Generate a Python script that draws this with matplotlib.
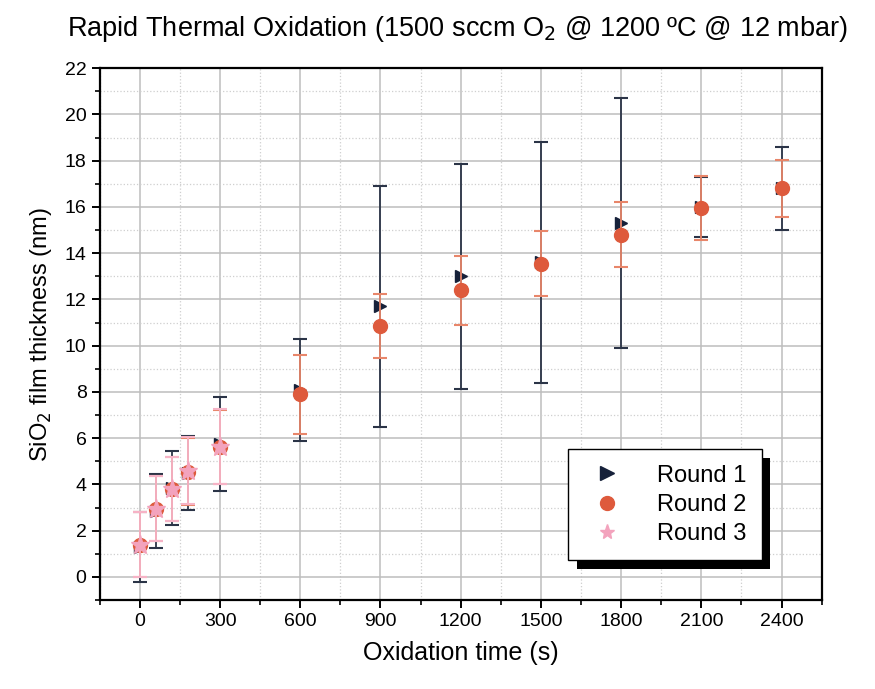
import matplotlib
matplotlib.use("Agg")
import matplotlib.pyplot as plt
import matplotlib.patheffects as pe
from matplotlib.lines import Line2D
from matplotlib.ticker import MultipleLocator

plt.rcParams['font.family'] = ['Liberation Sans', 'DejaVu Sans']

# Round 1
t1 = [0, 60, 120, 180, 300, 600, 900, 1200, 1500, 1800, 2100, 2400]
y1 = [1.3, 2.85, 3.85, 4.5, 5.75, 8.1, 11.7, 13.0, 13.6, 15.3, 16.0, 16.8]
e1 = [1.5, 1.6, 1.6, 1.6, 2.05, 2.2, 5.2, 4.85, 5.2, 5.4, 1.3, 1.8]

# Round 2
t2 = [0, 60, 120, 180, 300, 600, 900, 1200, 1500, 1800, 2100, 2400]
y2 = [1.4, 2.95, 3.8, 4.55, 5.6, 7.9, 10.85, 12.4, 13.55, 14.8, 15.95, 16.8]
e2 = [1.4, 1.4, 1.4, 1.45, 1.6, 1.7, 1.4, 1.5, 1.4, 1.4, 1.37, 1.22]

# Round 3
t3 = [0, 60, 120, 180, 300]
y3 = [1.4, 2.95, 3.8, 4.6, 5.63]
e3 = [1.4, 1.4, 1.4, 1.45, 1.62]

fig = plt.figure(figsize=(8.75, 6.89), dpi=100)
ax = fig.add_axes([0.114, 0.129, 0.825, 0.772])

c1, c2, c3 = '#16213a', '#de5a3c', '#f3a3bd'

ax.errorbar(t1, y1, yerr=e1, fmt='>', color=c1, ms=9, ecolor='#2b3447',
            elinewidth=1.3, capsize=5, capthick=1.5, zorder=3)
ax.errorbar(t2, y2, yerr=e2, fmt='o', color=c2, ms=10, ecolor='#e8866a',
            elinewidth=1.3, capsize=5, capthick=1.5, zorder=4)
ax.errorbar(t3, y3, yerr=e3, fmt='*', color=c3, ms=14, ecolor='#f6b3c6',
            elinewidth=1.3, capsize=5, capthick=1.5, zorder=5)

ax.set_xlim(-150, 2550)
ax.set_ylim(-1, 22)
ax.xaxis.set_major_locator(MultipleLocator(300))
ax.xaxis.set_minor_locator(MultipleLocator(150))
ax.yaxis.set_major_locator(MultipleLocator(2))
ax.yaxis.set_minor_locator(MultipleLocator(1))
ax.set_xticks([0, 300, 600, 900, 1200, 1500, 1800, 2100, 2400])

ax.grid(which='major', color='#bdbdbd', lw=1.1, zorder=0)
ax.grid(which='minor', color='#cfcfcf', lw=0.9, ls=':', zorder=0)
ax.set_axisbelow(True)

for s in ax.spines.values():
    s.set_linewidth(1.6)
ax.tick_params(which='major', direction='out', length=6, width=1.4, labelsize=14)
ax.tick_params(which='minor', direction='out', length=3.5, width=1.2)

ax.set_xlabel('Oxidation time (s)', fontsize=18, labelpad=8)
ax.set_ylabel('SiO$_2$ film thickness (nm)', fontsize=17, labelpad=8)
fig.text(0.523, 0.958, 'Rapid Thermal Oxidation (1500 sccm O$_2$ @ 1200 ºC @ 12 mbar)',
         fontsize=19.5, ha='center', va='center')

handles = [
    Line2D([], [], ls='none', marker='>', color=c1, ms=10),
    Line2D([], [], ls='none', marker='o', color=c2, ms=10),
    Line2D([], [], ls='none', marker='*', color=c3, ms=11),
]
leg = ax.legend(handles, ['Round 1', 'Round 2', 'Round 3'], loc='lower right',
                bbox_to_anchor=(0.917, 0.075), fontsize=17,
                fancybox=False, edgecolor='black', framealpha=1,
                handletextpad=1.1, borderpad=0.65, labelspacing=0.3,
                borderaxespad=0)
leg.get_frame().set_linewidth(1.0)
leg.get_frame().set_path_effects([
    pe.SimplePatchShadow(offset=(6, -6), shadow_rgbFace='black', alpha=1),
    pe.Normal()])

fig.savefig('out.png', dpi=100)
